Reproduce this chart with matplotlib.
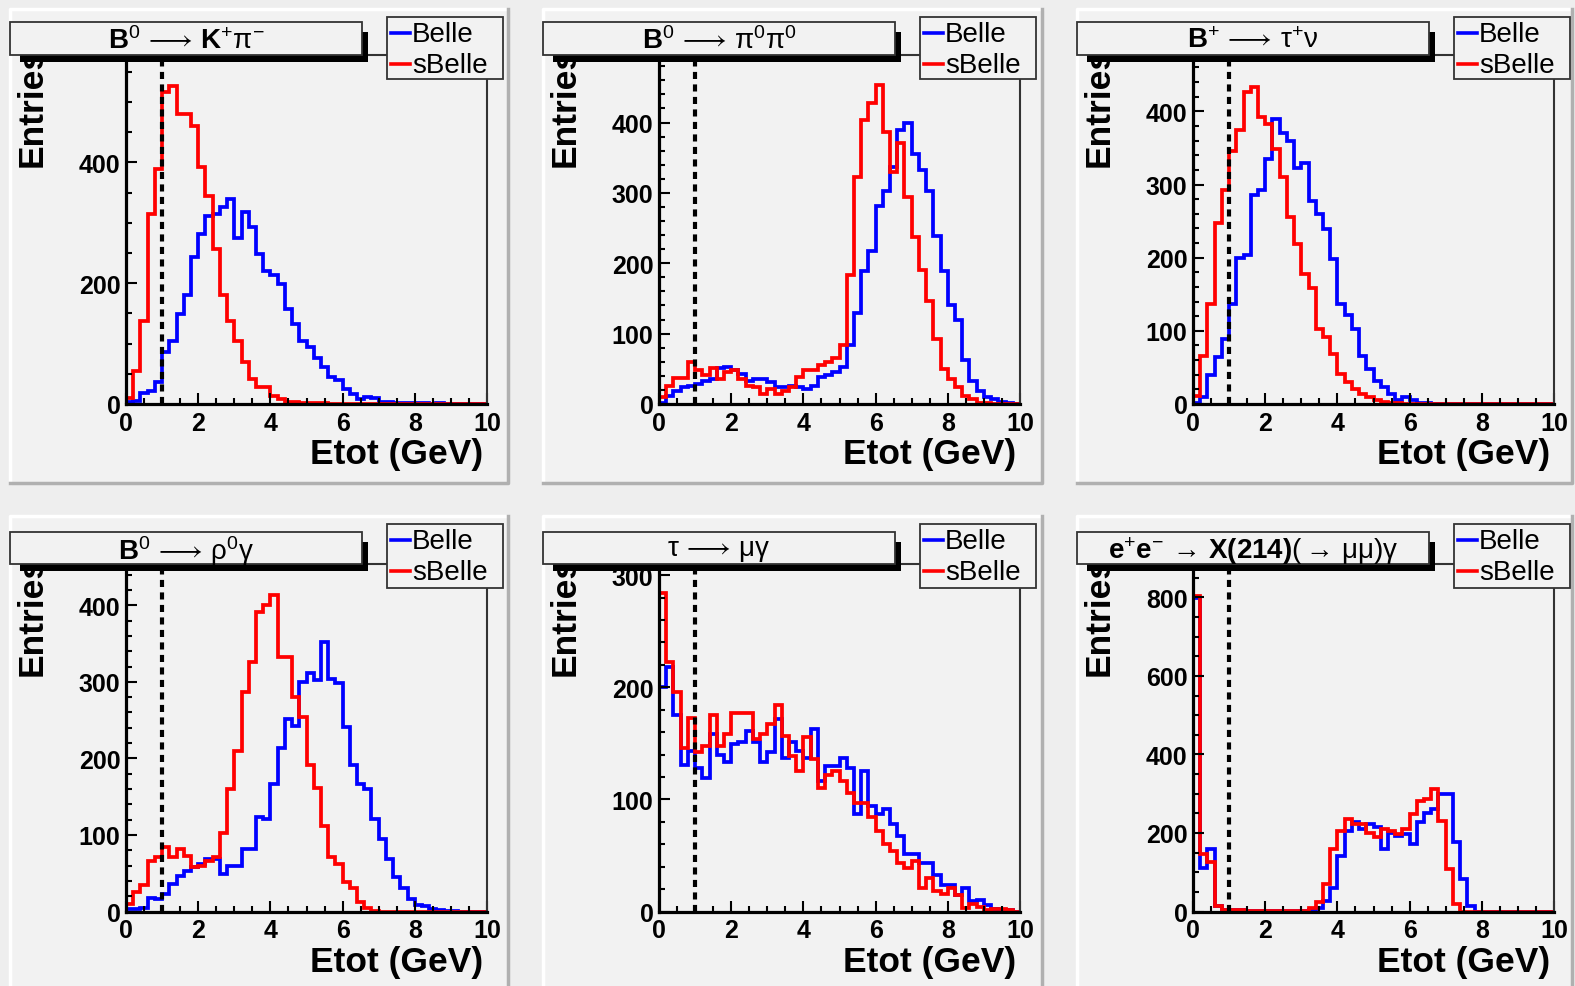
import matplotlib
matplotlib.use('Agg')
import matplotlib.pyplot as plt
import numpy as np
from matplotlib.patches import Rectangle
from matplotlib.lines import Line2D
from matplotlib.ticker import MultipleLocator

plt.rcParams['font.family'] = ['Liberation Sans', 'DejaVu Sans']
plt.rcParams['mathtext.fontset'] = 'custom'
plt.rcParams['mathtext.rm'] = 'Liberation Sans'
plt.rcParams['mathtext.bf'] = 'Liberation Sans:bold'
plt.rcParams['mathtext.it'] = 'Liberation Sans:italic'
plt.rcParams['mathtext.default'] = 'regular'

# 50 bins of Etot between 0 and 10 GeV
edges = np.linspace(0, 10, 51)

kpi_belle = [3, 5, 19, 22, 36, 86, 105, 149, 180, 243,
             282, 312, 315, 326, 340, 275, 318, 293, 249, 221,
             213, 199, 157, 133, 105, 94, 77, 61, 44, 39,
             25, 17, 8, 11, 10, 4, 3, 2, 2, 1,
             1, 1, 0, 1, 0, 0, 0, 0, 0, 0]
kpi_sbelle = [10, 55, 138, 315, 390, 516, 526, 481, 481, 461,
              392, 345, 257, 180, 138, 105, 69, 41, 28, 28,
              14, 8, 4, 3, 2, 1, 1, 1, 0, 0,
              0, 0, 0, 0, 0, 0, 0, 0, 0, 0,
              0, 0, 0, 0, 0, 0, 0, 0, 0, 0]

pipi_belle = [2, 12, 19, 24, 26, 29, 33, 36, 51, 53,
              48, 43, 33, 36, 36, 31, 24, 24, 26, 24,
              22, 26, 38, 41, 45, 53, 84, 129, 189, 217,
              282, 303, 337, 389, 399, 356, 332, 303, 239, 189,
              141, 119, 62, 33, 19, 10, 7, 3, 1, 0]
pipi_sbelle = [10, 26, 37, 37, 60, 48, 41, 51, 36, 45,
               49, 36, 26, 24, 14, 22, 14, 19, 24, 38,
               48, 48, 55, 60, 65, 84, 184, 323, 404, 428,
               454, 387, 330, 371, 294, 237, 191, 146, 93, 50,
               36, 24, 12, 7, 2, 1, 0, 0, 0, 0]

taunu_belle = [2, 9, 39, 64, 89, 137, 200, 203, 285, 292,
               335, 390, 371, 360, 323, 330, 278, 260, 239, 198,
               137, 121, 103, 66, 48, 32, 23, 14, 5, 9,
               5, 2, 1, 0, 0, 0, 0, 0, 0, 0,
               0, 0, 0, 0, 0, 0, 0, 0, 0, 0]
taunu_sbelle = [11, 66, 137, 248, 293, 346, 374, 426, 433, 392,
                383, 349, 310, 255, 219, 178, 159, 103, 91, 68,
                41, 30, 21, 14, 9, 5, 3, 2, 1, 0,
                0, 0, 0, 0, 0, 0, 0, 0, 0, 0,
                0, 0, 0, 0, 0, 0, 0, 0, 0, 0]

rhogam_belle = [3, 3, 5, 18, 16, 23, 36, 47, 53, 58,
                62, 68, 68, 49, 60, 60, 82, 82, 123, 121,
                167, 214, 252, 243, 300, 311, 302, 352, 304, 298,
                241, 191, 167, 160, 121, 95, 68, 45, 31, 16,
                8, 7, 3, 2, 1, 1, 0, 0, 0, 0]
rhogam_sbelle = [10, 25, 34, 66, 71, 84, 71, 82, 73, 58,
                 60, 66, 71, 103, 160, 210, 287, 326, 391, 400,
                 413, 332, 332, 280, 254, 191, 162, 112, 71, 62,
                 38, 31, 12, 5, 1, 0, 0, 0, 0, 0,
                 0, 0, 0, 0, 0, 0, 0, 0, 0, 0]

mugam_belle = [200, 218, 175, 131, 143, 128, 119, 158, 140, 133,
               149, 151, 161, 151, 133, 142, 172, 137, 151, 143,
               137, 163, 116, 130, 130, 137, 128, 87, 125, 94,
               87, 91, 78, 67, 51, 51, 43, 43, 33, 24,
               24, 15, 21, 9, 10, 6, 2, 1, 1, 0]
mugam_sbelle = [284, 223, 196, 146, 173, 142, 148, 175, 148, 158,
                177, 177, 177, 154, 158, 167, 184, 157, 139, 125,
                156, 136, 110, 122, 125, 116, 106, 97, 97, 84,
                72, 60, 54, 43, 39, 45, 21, 30, 18, 16,
                21, 15, 3, 7, 4, 1, 2, 2, 1, 0]

x214_belle = [798, 112, 160, 14, 4, 4, 3, 2, 2, 2,
              2, 2, 2, 2, 2, 2, 4, 10, 27, 61,
              142, 206, 227, 210, 223, 214, 159, 201, 193, 197,
              172, 227, 252, 262, 299, 299, 176, 82, 14, 0,
              0, 0, 0, 0, 0, 0, 0, 0, 0, 0]
x214_sbelle = [804, 146, 125, 14, 4, 4, 3, 2, 2, 2,
               2, 2, 2, 2, 2, 2, 10, 23, 70, 159,
               206, 235, 223, 223, 201, 189, 210, 206, 197, 210,
               248, 282, 286, 312, 231, 108, 19, 0, 0, 0,
               0, 0, 0, 0, 0, 0, 0, 0, 0, 0]

titles = [r'$\mathbf{B}^{0}\,\longrightarrow\,\mathbf{K}^{+}\pi^{-}$',
          r'$\mathbf{B}^{0}\,\longrightarrow\,\pi^{0}\pi^{0}$',
          r'$\mathbf{B}^{+}\,\longrightarrow\,\tau^{+}\nu$',
          r'$\mathbf{B}^{0}\,\longrightarrow\,\rho^{0}\gamma$',
          r'$\tau\,\longrightarrow\,\mu\gamma$',
          r'$\mathbf{e}^{+}\mathbf{e}^{-}\,\rightarrow\,\mathbf{X(214)}(\rightarrow\,\mu\mu)\gamma$']
belle = [kpi_belle, pipi_belle, taunu_belle, rhogam_belle, mugam_belle, x214_belle]
sbelle = [kpi_sbelle, pipi_sbelle, taunu_sbelle, rhogam_sbelle, mugam_sbelle, x214_sbelle]
ymax = [578, 496, 477, 454, 310, 885]
ymajor = [200, 100, 100, 100, 100, 200]

W, H = 1575, 987
fig = plt.figure(figsize=(W / 100, H / 100), dpi=100)
fig.patch.set_facecolor('#eeeeee')

def fx(p):
    return p / W

def fy(p):
    return 1 - p / H

pad_col = '#f2f2f2'
col_left = [10, 543, 1077]
col_right = [508, 1042, 1572]
frame_x = [(126, 487), (659, 1020), (1193, 1554)]
row_top = [10, 517]
row_bot = [484, 995]
frame_y = [(56, 405), (565, 912.5)]
title_y = [(23, 56), (533, 565)]
leg_y = [(18, 80), (525, 589)]

for i in range(6):
    r, c = divmod(i, 3)
    L, R = col_left[c], col_right[c]
    T, B = row_top[r], row_bot[r]
    # pad with bevel
    fig.add_artist(Rectangle((fx(L), fy(B)), (R - L) / W, (B - T) / H,
                             transform=fig.transFigure, facecolor=pad_col,
                             edgecolor='none', zorder=-2))
    fig.add_artist(Line2D([fx(L), fx(L), fx(R)], [fy(B), fy(T), fy(T)],
                          transform=fig.transFigure, color='white', lw=2.5, zorder=-1))
    fig.add_artist(Line2D([fx(L), fx(R), fx(R)], [fy(B), fy(B), fy(T)],
                          transform=fig.transFigure, color='#b0b0b0', lw=2.5, zorder=-1))

    x0, x1 = frame_x[c]
    yt, yb = frame_y[r]
    ax = fig.add_axes([fx(x0), fy(yb), (x1 - x0) / W, (yb - yt) / H])
    ax.set_facecolor(pad_col)
    ax.stairs(belle[i], edges, color='#0000ff', lw=2.7, baseline=0)
    ax.stairs(sbelle[i], edges, color='#ff0000', lw=2.7, baseline=0)
    ax.axvline(1.0, color='black', lw=3.0, ls=(0, (1.7, 1.3)))
    ax.set_xlim(0, 10)
    ax.set_ylim(0, ymax[i])
    ax.xaxis.set_major_locator(MultipleLocator(2))
    ax.xaxis.set_minor_locator(MultipleLocator(0.5))
    ax.yaxis.set_major_locator(MultipleLocator(ymajor[i]))
    ax.yaxis.set_minor_locator(MultipleLocator(ymajor[i] / (4 if ymajor[i] == 200 else 5)))
    ax.tick_params(which='both', direction='in', top=False, right=False,
                   width=1.5, labelsize=18)
    ax.tick_params(axis='y', which='both', pad=4)
    ax.tick_params(axis='x', which='both', pad=5)
    ax.tick_params(which='major', length=8)
    ax.tick_params(which='minor', length=4)
    for lab in ax.get_xticklabels() + ax.get_yticklabels():
        lab.set_fontweight('bold')
    for s in ['left', 'bottom']:
        ax.spines[s].set_linewidth(2.3)
        ax.spines[s].set_color('black')
    for s in ['right', 'top']:
        ax.spines[s].set_linewidth(1.5)
        ax.spines[s].set_color('#333333')
    ax.text(1 - 4 / (x1 - x0), -50 / (yb - yt), 'Etot (GeV)', transform=ax.transAxes,
            ha='right', va='center', fontsize=25.5, fontweight='bold')

    # rotated y title, partly hidden under the title box
    fig.text(fx(L + 22), fy(yt - 9), 'Entries', rotation=90, ha='center', va='top',
             fontsize=25.5, fontweight='bold', zorder=2)

    # title box with shadow
    ty0, ty1 = title_y[r]
    tl, tr = L, L + 352
    fig.add_artist(Rectangle((fx(tl + 10), fy(ty1 + 7)), (tr - tl - 4) / W, (ty1 - ty0 - 3) / H,
                             transform=fig.transFigure, facecolor='black',
                             edgecolor='none', zorder=5))
    fig.add_artist(Rectangle((fx(tl), fy(ty1)), (tr - tl) / W, (ty1 - ty0) / H,
                             transform=fig.transFigure, facecolor=pad_col,
                             edgecolor='#333333', lw=1.3, zorder=6))
    fig.text(fx((tl + tr) / 2), fy((ty0 + ty1) / 2 + 2), titles[i], ha='center', va='center',
             fontsize=20, zorder=7)

    # legend box
    ll = L + 377
    lr = ll + 116
    ly0, ly1 = leg_y[r]
    fig.add_artist(Rectangle((fx(ll), fy(ly1)), (lr - ll) / W, (ly1 - ly0) / H,
                             transform=fig.transFigure, facecolor=pad_col,
                             edgecolor='#333333', lw=1.3, zorder=6))
    for k, (name, col) in enumerate([('Belle', '#0000ff'), ('sBelle', '#ff0000')]):
        yy = ly0 + 16 + k * 31
        fig.add_artist(Line2D([fx(ll + 4), fx(ll + 23)], [fy(yy), fy(yy)],
                              transform=fig.transFigure, color=col, lw=2.6, zorder=7))
        fig.text(fx(ll + 25), fy(yy + 1), name, ha='left', va='center',
                 fontsize=20, zorder=7)

fig.savefig('out.png', dpi=100, facecolor=fig.get_facecolor())
